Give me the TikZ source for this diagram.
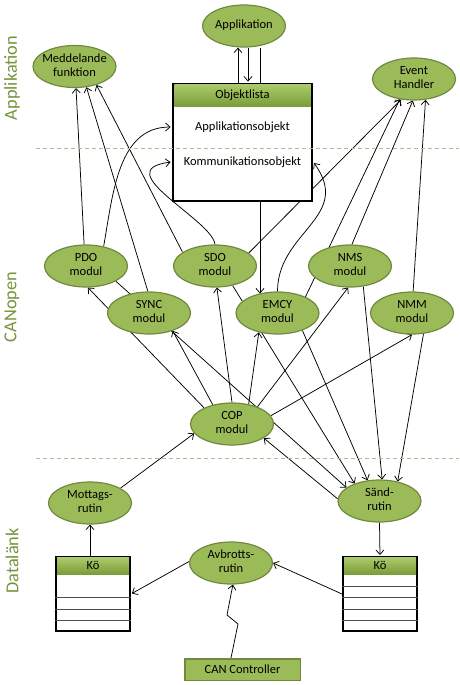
\documentclass[tikz,border=0pt]{standalone}
\usepackage{fontspec}
\setmainfont{Carlito}
\usetikzlibrary{shapes.geometric,arrows.meta,backgrounds}
\definecolor{cmodul}{RGB}{155,187,89}
\definecolor{cedge}{RGB}{113,137,63}
\definecolor{chead}{RGB}{122,156,56}
\definecolor{cheadtop}{RGB}{172,203,108}
\definecolor{clayer}{RGB}{119,147,60}
\definecolor{csep}{RGB}{178,186,138}
\newcommand{\lbl}[1]{\makebox[0pt]{\begin{tabular}{@{}c@{}}#1\end{tabular}}}

\tikzset{
  modul/.style={ellipse,draw=cedge,line width=1.2pt,fill=cmodul,minimum width=83pt,minimum height=42pt,inner sep=0pt,font=\fontsize{12.5}{14}\selectfont},
  listbox/.style={draw,line width=2.5pt,fill=white,minimum width=139pt,minimum height=117pt,inner sep=0pt},
  listhead/.style={top color=cheadtop,bottom color=chead,minimum width=136.5pt,minimum height=22pt,inner sep=0pt,font=\fontsize{12.5}{14}\selectfont},
  kobox/.style={draw,line width=2pt,fill=white,minimum width=74pt,minimum height=74pt,inner sep=0pt},
  kohead/.style={top color=cheadtop,bottom color=chead,minimum width=72pt,minimum height=17pt,inner sep=0pt,font=\fontsize{12.5}{14}\selectfont},
  canbox/.style={draw=cedge,line width=1.5pt,fill=cmodul,minimum width=115.5pt,minimum height=21.5pt,inner sep=0pt,font=\fontsize{12.5}{14}\selectfont},
  txt/.style={inner sep=0pt,font=\fontsize{12.5}{14}\selectfont},
  side/.style={text=clayer,rotate=90,inner sep=0pt,font=\fontsize{18.3}{20}\selectfont},
  row/.style={line width=1pt,draw=black!70},
  link/.style={->,line width=0.75pt},
  sep/.style={draw=csep,line width=1pt,dash pattern=on 4pt off 3pt}
}

\begin{document}
\begin{tikzpicture}[x=1pt,y=-1pt,>={Straight Barb[length=4.5pt,width=8pt]}]
\useasboundingbox (0,0) rectangle (459,685);

% layer names
\node[side] (lapp) at (12,78) {Applikation};
\node[side] (lcan) at (12,307) {CANopen};
\node[side] (ldat) at (12,561) {Datalänk};

% application
\node[modul] (app) at (244,26) {\lbl{Applikation}};
\node[modul] (medd) at (74.5,66.5) {\lbl{Meddelande\\funktion}};
\node[modul] (evh) at (414,79) {\lbl{Event\\Handler}};
\node[listbox] (obj) at (242.5,142.5) {};
\node[listhead,anchor=north] (objhd) at ([yshift=-1.25pt]obj.north) {Objektlista};
\node[txt] (appobj) at (242.5,127) {Applikationsobjekt};
\node[txt] (komobj) at (242.5,162) {Kommunikationsobjekt};

% canopen
\node[modul] (pdo) at (86,266) {\lbl{PDO\\modul}};
\node[modul] (sdo) at (215,266) {\lbl{SDO\\modul}};
\node[modul] (nms) at (350,266) {\lbl{NMS\\modul}};
\node[modul] (sync) at (149,313) {\lbl{SYNC\\modul}};
\node[modul] (emcy) at (277.5,313) {\lbl{EMCY\\modul}};
\node[modul] (nmm) at (412,313) {\lbl{NMM\\modul}};
\node[modul] (cop) at (232,424) {\lbl{COP\\modul}};

% data link
\node[modul] (mott) at (90,503) {\lbl{Mottags-\\rutin}};
\node[modul] (sand) at (379.5,501) {\lbl{Sänd-\\rutin}};
\node[modul] (avb) at (231,563) {\lbl{Avbrotts-\\rutin}};
\node[kobox] (kol) at (93,594) {};
\node[kohead,anchor=north] (kolhd) at ([yshift=-1pt]kol.north) {Kö};
\foreach \y in {41,53,64}
  \draw[row] ([yshift=-\y pt]kol.north west) -- ([yshift=-\y pt]kol.north east);
\node[kobox] (kor) at (380,594) {};
\node[kohead,anchor=north] (korhd) at ([yshift=-1pt]kor.north) {Kö};
\foreach \y in {30,41,53,64}
  \draw[row] ([yshift=-\y pt]kor.north west) -- ([yshift=-\y pt]kor.north east);
\node[canbox] (can) at (242.5,669.5) {CAN Controller};

\coordinate (a1) at ([xshift=-6pt]app.south);
\coordinate (a2) at ([xshift=4pt]app.south);
\coordinate (a3) at ([xshift=16pt]app.south);
\coordinate (c1) at ([xshift=-11.5pt]can.north);

% connections
\begin{scope}[on background layer]
\draw[link] (a1 |- obj.north) -- (a1);
\draw[link,shorten >=1.2pt] (a2) -- (a2 |- obj.north);
\draw[link] (a3) -- (a3 |- emcy.133);
\draw[link] (pdo.95) -- (medd.-86);
\draw[link] (sync.93) -- (medd.-60);
\draw[link] (sdo.157) -- (medd.-40);
\draw[link,shorten >=1.2pt] (pdo.48) to[out=80,in=180] (obj.west |- appobj);
\draw[link,shorten >=1.2pt] (sdo.north) .. controls +(-3,-25) and +(-65,8) .. (obj.west |- komobj);
\draw[link,shorten >=1.2pt] (emcy.north) .. controls +(0,-60) and +(40,55) .. (obj.east |- komobj);
\draw[link] (sdo.21) -- (evh.-122);
\draw[link] (emcy.30) -- (evh.-125);
\draw[link] (nms.85) -- (evh.-93);
\draw[link] (nmm.87) -- (evh.-61);

\draw[link] (cop.150) -- (pdo.-85);
\draw[link] (cop.135) -- (sync.-37);
\draw[link] (cop.north) -- (sdo.-85);
\draw[link] (cop.50) -- (emcy.-134);
\draw[link] (cop.34) -- (nms.-95);
\draw[link] (cop.12) -- (nmm.-90);

\draw[link] (pdo.-27) -- (sand.158);
\draw[link] (sdo.-48) -- (sand.145);
\draw[link] (emcy.-35) -- (sand.120);
\draw[link] (nms.-57) -- (sand.83);
\draw[link] (nmm.-61) -- (sand.47);

\draw[link] (mott.26) -- (cop.-166);
\draw[link] (sand.177) -- (cop.-24);
\draw[link,shorten >=1pt] (sand.south) -- (kor.north);
\draw[link] (mott.south |- kol.north) -- (mott.south);
\draw[link,shorten >=1pt] (avb.178) -- (kol.east);
\draw[link] (kor.west) -- (avb.east);
\draw[link] (c1) -- ++(7,-34) -- ++(-11,-9) -- (avb.-85);
\end{scope}

% layer borders
\draw[sep] (36,148) -- (459,148);
\draw[sep] (36,458) -- (459,458);

\end{tikzpicture}
\end{document}
